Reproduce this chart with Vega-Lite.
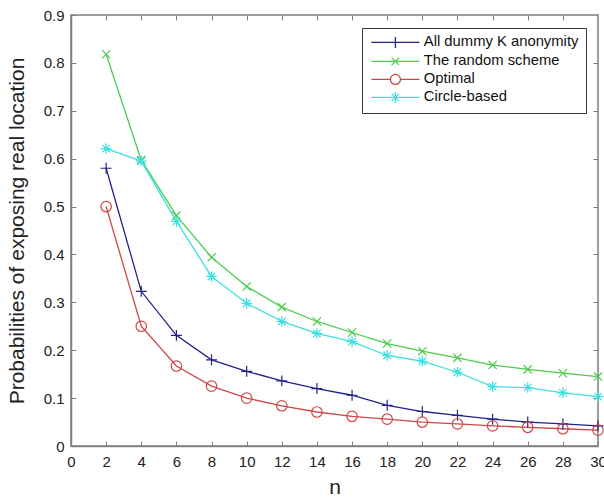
{
  "$schema": "https://vega.github.io/schema/vega-lite/v6.json",
  "width": 527,
  "height": 431,
  "autosize": {"type": "none"},
  "padding": {"left": 71, "top": 15, "right": 6, "bottom": 51},
  "background": "white",
  "config": {
    "view": {"stroke": "#7f7f7f", "strokeWidth": 1.5},
    "font": "Liberation Sans",
    "axis": {"grid": false, "domainColor": "#7f7f7f", "domainWidth": 1.5, "tickColor": "#7f7f7f", "labelColor": "#222", "titleColor": "#222", "labelFont": "Liberation Sans", "titleFont": "Liberation Sans", "titleFontWeight": "normal"}
  },
  "data": {
    "values": [
      {"n": 2, "series": "All dummy K anonymity", "p": 0.58},
      {"n": 4, "series": "All dummy K anonymity", "p": 0.323},
      {"n": 6, "series": "All dummy K anonymity", "p": 0.231},
      {"n": 8, "series": "All dummy K anonymity", "p": 0.18},
      {"n": 10, "series": "All dummy K anonymity", "p": 0.156},
      {"n": 12, "series": "All dummy K anonymity", "p": 0.136},
      {"n": 14, "series": "All dummy K anonymity", "p": 0.12},
      {"n": 16, "series": "All dummy K anonymity", "p": 0.106},
      {"n": 18, "series": "All dummy K anonymity", "p": 0.085},
      {"n": 20, "series": "All dummy K anonymity", "p": 0.072},
      {"n": 22, "series": "All dummy K anonymity", "p": 0.064},
      {"n": 24, "series": "All dummy K anonymity", "p": 0.056},
      {"n": 26, "series": "All dummy K anonymity", "p": 0.05},
      {"n": 28, "series": "All dummy K anonymity", "p": 0.046},
      {"n": 30, "series": "All dummy K anonymity", "p": 0.042},
      {"n": 2, "series": "The random scheme", "p": 0.818},
      {"n": 4, "series": "The random scheme", "p": 0.597},
      {"n": 6, "series": "The random scheme", "p": 0.481},
      {"n": 8, "series": "The random scheme", "p": 0.394},
      {"n": 10, "series": "The random scheme", "p": 0.333},
      {"n": 12, "series": "The random scheme", "p": 0.29},
      {"n": 14, "series": "The random scheme", "p": 0.26},
      {"n": 16, "series": "The random scheme", "p": 0.237},
      {"n": 18, "series": "The random scheme", "p": 0.214},
      {"n": 20, "series": "The random scheme", "p": 0.198},
      {"n": 22, "series": "The random scheme", "p": 0.184},
      {"n": 24, "series": "The random scheme", "p": 0.169},
      {"n": 26, "series": "The random scheme", "p": 0.16},
      {"n": 28, "series": "The random scheme", "p": 0.152},
      {"n": 30, "series": "The random scheme", "p": 0.145},
      {"n": 2, "series": "Optimal", "p": 0.5},
      {"n": 4, "series": "Optimal", "p": 0.25},
      {"n": 6, "series": "Optimal", "p": 0.167},
      {"n": 8, "series": "Optimal", "p": 0.125},
      {"n": 10, "series": "Optimal", "p": 0.1},
      {"n": 12, "series": "Optimal", "p": 0.084},
      {"n": 14, "series": "Optimal", "p": 0.071},
      {"n": 16, "series": "Optimal", "p": 0.062},
      {"n": 18, "series": "Optimal", "p": 0.056},
      {"n": 20, "series": "Optimal", "p": 0.05},
      {"n": 22, "series": "Optimal", "p": 0.046},
      {"n": 24, "series": "Optimal", "p": 0.042},
      {"n": 26, "series": "Optimal", "p": 0.039},
      {"n": 28, "series": "Optimal", "p": 0.036},
      {"n": 30, "series": "Optimal", "p": 0.033},
      {"n": 2, "series": "Circle-based", "p": 0.621},
      {"n": 4, "series": "Circle-based", "p": 0.595},
      {"n": 6, "series": "Circle-based", "p": 0.469},
      {"n": 8, "series": "Circle-based", "p": 0.354},
      {"n": 10, "series": "Circle-based", "p": 0.298},
      {"n": 12, "series": "Circle-based", "p": 0.26},
      {"n": 14, "series": "Circle-based", "p": 0.235},
      {"n": 16, "series": "Circle-based", "p": 0.218},
      {"n": 18, "series": "Circle-based", "p": 0.189},
      {"n": 20, "series": "Circle-based", "p": 0.177},
      {"n": 22, "series": "Circle-based", "p": 0.154},
      {"n": 24, "series": "Circle-based", "p": 0.124},
      {"n": 26, "series": "Circle-based", "p": 0.122},
      {"n": 28, "series": "Circle-based", "p": 0.111},
      {"n": 30, "series": "Circle-based", "p": 0.103}
    ]
  },
  "resolve": {"axis": {"x": "independent", "y": "independent"}},
  "layer": [
    {
      "mark": {"type": "line", "strokeWidth": 1.3},
      "encoding": {
        "x": {"field": "n", "type": "quantitative", "scale": {"domain": [0, 30], "nice": false, "zero": false},
          "axis": {"orient": "bottom", "values": [0,2,4,6,8,10,12,14,16,18,20,22,24,26,28,30], "tickSize": -5, "labelPadding": 13, "labelFontSize": 15, "title": "n", "titleFontSize": 21, "titlePadding": 7, "labelFlush": false}},
        "y": {"field": "p", "type": "quantitative", "scale": {"domain": [0, 0.9], "nice": false},
          "axis": {"orient": "left", "values": [0,0.1,0.2,0.3,0.4,0.5,0.6,0.7,0.8,0.9], "format": ".1~f", "tickSize": -5, "labelPadding": 12, "labelFontSize": 15, "title": "Probabilities of exposing real location", "titleFontSize": 21, "titlePadding": 16}},
        "color": {"field": "series", "type": "nominal",
          "scale": {"domain": ["All dummy K anonymity", "The random scheme", "Optimal", "Circle-based"], "range": ["#22228a", "#4ccc4c", "#cc4848", "#3ce0e0"]},
          "legend": {
            "title": null, "orient": "none", "legendX": 291, "legendY": 13,
            "direction": "vertical",
            "symbolSize": 100, "symbolStrokeWidth": 1.3, "symbolFillColor": "transparent",
            "labelFontSize": 14.8, "labelColor": "#111", "labelOffset": 40, "labelFont": "Liberation Sans",
            "rowPadding": 2, "padding": 7,
            "strokeColor": "#333", "fillColor": "white",
            "encode": {"symbols": {"update": {
              "shape": {"signal": "datum.value === 'Optimal' ? 'M-1,0H2.8M4.8,0H8.6M2.8,0A1,1 0 1,0 4.8,0A1,1 0 1,0 2.8,0' : datum.value === 'All dummy K anonymity' ? 'M-1,0H8.6M3.8,-1.1V1.1' : datum.value === 'The random scheme' ? 'M-1,0H8.6M3.05,-0.75L4.55,0.75M3.05,0.75L4.55,-0.75' : 'M-1,0H8.6M3.8,-1.1V1.1M3.05,-0.75L4.55,0.75M3.05,0.75L4.55,-0.75'"},
              "fill": {"value": "transparent"},
              "strokeWidth": {"value": 1.3}
            }}}
          }}
      }
    },
    {
      "transform": [{"filter": "datum.series === 'All dummy K anonymity'"}],
      "mark": {"type": "point", "shape": "M-1,0H1M0,-1V1", "filled": false, "strokeWidth": 1.2, "size": 120, "opacity": 1},
      "encoding": {
        "x": {"field": "n", "type": "quantitative", "axis": {"orient": "top", "values": [2,4,6,8,10,12,14,16,18,20,22,24,26,28], "tickSize": -5, "labels": false, "domain": false, "title": null}},
        "y": {"field": "p", "type": "quantitative", "axis": {"orient": "right", "values": [0.1,0.2,0.3,0.4,0.5,0.6,0.7,0.8], "tickSize": -5, "labels": false, "domain": false, "title": null}},
        "color": {"field": "series", "type": "nominal"}
      }
    },
    {
      "transform": [{"filter": "datum.series === 'The random scheme'"}],
      "mark": {"type": "point", "shape": "M-0.75,-0.75L0.75,0.75M-0.75,0.75L0.75,-0.75", "filled": false, "strokeWidth": 1.2, "size": 120, "opacity": 1},
      "encoding": {
        "x": {"field": "n", "type": "quantitative", "axis": null},
        "y": {"field": "p", "type": "quantitative", "axis": null},
        "color": {"field": "series", "type": "nominal"}
      }
    },
    {
      "transform": [{"filter": "datum.series === 'Optimal'"}],
      "mark": {"type": "point", "shape": "circle", "filled": false, "strokeWidth": 1.2, "size": 110, "opacity": 1},
      "encoding": {
        "x": {"field": "n", "type": "quantitative", "axis": null},
        "y": {"field": "p", "type": "quantitative", "axis": null},
        "color": {"field": "series", "type": "nominal"}
      }
    },
    {
      "transform": [{"filter": "datum.series === 'Circle-based'"}],
      "mark": {"type": "point", "shape": "M-1,0H1M0,-1V1M-0.72,-0.72L0.72,0.72M-0.72,0.72L0.72,-0.72", "filled": false, "strokeWidth": 1.2, "size": 110, "opacity": 1},
      "encoding": {
        "x": {"field": "n", "type": "quantitative", "axis": null},
        "y": {"field": "p", "type": "quantitative", "axis": null},
        "color": {"field": "series", "type": "nominal"}
      }
    }
  ]
}
